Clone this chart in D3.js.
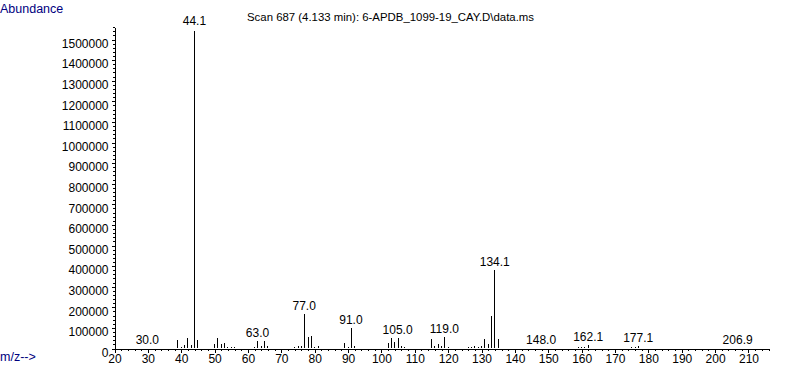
<!DOCTYPE html>
<html>
<head>
<meta charset="utf-8">
<script src="https://cdn.jsdelivr.net/npm/d3@7"></script>
<style>
  body { margin: 0; background: #fff; }
  svg { display: block; font-family: "Liberation Sans", Arial, sans-serif; }
  .axis path, .axis line { stroke: #000; shape-rendering: crispEdges; }
  .axis text { fill: #000; font-size: 12px; }
</style>
</head>
<body>
<div class="display"></div>
<script>
// Mass spectrum, scan 687

const WIDTH = 787;
const HEIGHT = 367;
const AXIS_LEFT = 114;   // y axis x position
const AXIS_RIGHT = 768;
const BASELINE = 348;    // x axis y position
const PX_PER_100K = 20.6;

// m/z of each peak and its abundance
const MZ = [30, 39, 40, 41, 42, 43, 44, 45, 50, 51, 52, 53, 54, 55, 56,
  62, 63, 64, 65, 66, 74, 75, 76, 77, 78, 79, 80, 81, 89, 90, 91, 92,
  102, 103, 104, 105, 106, 107, 115, 116, 117, 118, 119, 120,
  126, 127, 128, 129, 130, 131, 132, 133, 134, 135, 148,
  159, 160, 161, 162, 175, 176, 177, 207];
const ABUNDANCE = [2000, 39000, 6000, 15000, 47000, 15000, 1540000, 39000, 19000, 47000, 19000, 23000, 6000, 4000, 4000,
  5000, 33000, 10000, 33000, 10000, 5000, 8000, 8000, 165000, 53000, 58000, 5000, 8000, 26000, 5000, 97000, 8000,
  26000, 50000, 31000, 50000, 10000, 3000, 42000, 8000, 19000, 8000, 55000, 5000,
  3000, 6000, 8000, 6000, 8000, 42000, 18000, 157000, 379000, 42000, 2000,
  5000, 6000, 4000, 14000, 4000, 6000, 12000, 1500];

// labelled peaks
const LABELS = ['30.0', '44.1', '63.0', '77.0', '91.0', '105.0', '119.0', '134.1', '148.0', '162.1', '177.1', '206.9'];

const X_MAJOR = d3.range(20, 211, 10);
const X_MINOR = d3.range(20, 217, 2);
const Y_MAJOR = d3.range(0, 1500001, 100000);
const Y_MINOR = d3.range(0, 1560001, 20000);

const TITLE = 'Scan 687 (4.133 min): 6-APDB_1099-19_CAY.D\\data.ms';

const svg = d3.select('.display')
  .append('svg')
  .attr('width', WIDTH)
  .attr('height', HEIGHT);

const x = d3.scaleLinear()
  .domain([20, 216])
  .range([AXIS_LEFT, AXIS_RIGHT]);

const yMax = (BASELINE - 27) / PX_PER_100K * 100000;
const y = d3.scaleLinear()
  .domain([0, yMax])
  .range([BASELINE, 27]);

const px = v => Math.round(x(v)) + 0.5;

// x axis: minor then major ticks
svg.append('g')
  .attr('class', 'axis')
  .attr('transform', `translate(0.5, ${BASELINE + 0.5})`)
  .call(d3.axisBottom(x).tickValues(X_MINOR).tickSize(2).tickSizeOuter(0).tickFormat(''));

svg.append('g')
  .attr('class', 'axis')
  .attr('transform', `translate(0.5, ${BASELINE + 0.5})`)
  .call(d3.axisBottom(x).tickValues(X_MAJOR).tickSize(4).tickSizeOuter(0).tickPadding(2).tickFormat(d3.format('d')))
  .call(g => g.select('.domain').remove());

// y axis
svg.append('g')
  .attr('class', 'axis')
  .attr('transform', `translate(${AXIS_LEFT + 0.5}, 0.5)`)
  .call(d3.axisLeft(y).tickValues(Y_MINOR).tickSize(1.5).tickSizeOuter(0).tickFormat(''));

svg.append('g')
  .attr('class', 'axis')
  .attr('transform', `translate(${AXIS_LEFT + 0.5}, 0.5)`)
  .call(d3.axisLeft(y).tickValues(Y_MAJOR).tickSize(3).tickPadding(3).tickFormat(d3.format('d')))
  .call(g => g.select('.domain').remove())
  .call(g => g.selectAll('text').attr('dy', '0.65em'));

// peaks
svg.append('g')
  .selectAll('line')
  .data(MZ)
  .enter()
  .append('line')
  .attr('x1', d => px(d))
  .attr('x2', d => px(d))
  .attr('y1', BASELINE)
  .attr('y2', (d, i) => Math.round(y(ABUNDANCE[i])))
  .attr('stroke', '#000')
  .attr('stroke-width', 1)
  .attr('shape-rendering', 'crispEdges');

// peak labels, the tallest one sits a bit higher
svg.append('g')
  .selectAll('text')
  .data(LABELS)
  .enter()
  .append('text')
  .attr('x', d => x(+d))
  .attr('y', d => {
    const i = MZ.indexOf(Math.round(+d));
    return y(ABUNDANCE[i]) - (ABUNDANCE[i] > 1000000 ? 6 : 4);
  })
  .attr('text-anchor', 'middle')
  .attr('font-size', 12)
  .attr('fill', '#000')
  .text(d => d);

// titles
svg.append('text')
  .attr('x', 0)
  .attr('y', 13)
  .attr('font-size', 12.5)
  .attr('fill', '#000080')
  .text('Abundance');

svg.append('text')
  .attr('x', 0)
  .attr('y', 361)
  .attr('font-size', 12.5)
  .attr('fill', '#000080')
  .text('m/z-->');

svg.append('text')
  .attr('x', 247)
  .attr('y', 21)
  .attr('font-size', 11.4)
  .attr('fill', '#000')
  .text(TITLE);
</script>
</body>
</html>
